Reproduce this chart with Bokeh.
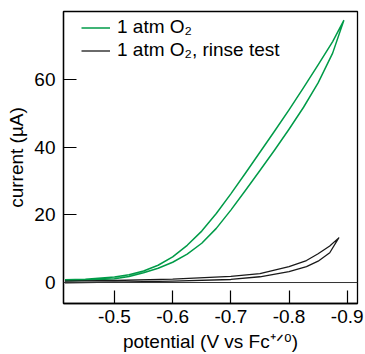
from bokeh.plotting import figure
from bokeh.models import Range1d, FixedTicker, Span, Legend, LegendItem, ColumnDataSource
from bokeh.embed import file_html
from bokeh.resources import INLINE

# ---- data (potential in V vs Fc+/0, current in uA) ----
o2_forward_v = [-0.415, -0.45, -0.5, -0.525, -0.55, -0.575, -0.6, -0.625, -0.65, -0.675,
                -0.7, -0.725, -0.75, -0.775, -0.8, -0.825, -0.85, -0.875, -0.894]
o2_forward_i = [0.5, 0.7, 1.1, 1.8, 2.9, 4.2, 6.0, 8.4, 11.6, 16.0,
                21.4, 27.2, 33.1, 39.1, 45.3, 51.8, 59.0, 67.8, 77.4]
o2_reverse_v = [-0.894, -0.875, -0.85, -0.825, -0.8, -0.775, -0.75, -0.725, -0.7, -0.675,
                -0.65, -0.625, -0.6, -0.575, -0.55, -0.525, -0.5, -0.45, -0.415]
o2_reverse_i = [77.4, 71.2, 64.3, 57.6, 51.0, 44.7, 38.5, 32.3, 26.2, 20.4,
                15.2, 11.0, 7.6, 5.1, 3.4, 2.3, 1.6, 1.0, 0.8]

rinse_forward_v = [-0.415, -0.5, -0.6, -0.7, -0.75, -0.8, -0.83, -0.85, -0.87, -0.8855]
rinse_forward_i = [-0.1, 0.1, 0.4, 0.9, 1.7, 3.2, 4.7, 6.3, 8.8, 13.2]
rinse_reverse_v = [-0.8855, -0.87, -0.85, -0.83, -0.8, -0.75, -0.7, -0.6, -0.5, -0.415]
rinse_reverse_i = [13.2, 10.8, 8.5, 6.5, 4.7, 2.6, 1.8, 1.0, 0.6, 0.4]

x_ticks = [-0.5, -0.6, -0.7, -0.8, -0.9]
y_ticks = [0, 20, 40, 60]
series_labels = ["1 atm O\u2082", "1 atm O\u2082, rinse test"]
x_title = "potential (V vs Fc\u207a\u141f\u2070)"
y_title = "current (\u00b5A)"

FONT = "Liberation Sans"
GREEN = "#009b48"
BLACK = "#1a1a1a"

p = figure(width=365, height=354, output_backend="svg", toolbar_location=None,
           x_range=Range1d(-0.4124, -0.9177), y_range=Range1d(-6.2, 80.1),
           min_border_left=63, min_border_right=8, min_border_top=11, min_border_bottom=51)

p.background_fill_color = "white"
p.border_fill_color = "white"
p.outline_line_color = "black"
p.outline_line_width = 1.3
p.grid.visible = False

zero = Span(location=0, dimension="width", line_color="#333333", line_width=1)
p.add_layout(zero)

src_o2 = ColumnDataSource(dict(x=o2_forward_v + o2_reverse_v, y=o2_forward_i + o2_reverse_i))
src_rinse = ColumnDataSource(dict(x=rinse_forward_v + rinse_reverse_v, y=rinse_forward_i + rinse_reverse_i))

r1 = p.line("x", "y", source=src_o2, line_color=GREEN, line_width=1.5, line_join="round")
r2 = p.line("x", "y", source=src_rinse, line_color=BLACK, line_width=1.3, line_join="round")

legend = Legend(items=[LegendItem(label=series_labels[0], renderers=[r1]),
                       LegendItem(label=series_labels[1], renderers=[r2])],
                location=(18, 242), padding=0, margin=0, spacing=1,
                glyph_width=29, glyph_height=21, label_height=21, label_standoff=7,
                border_line_alpha=0, background_fill_alpha=0,
                label_text_font=FONT, label_text_font_size="19px", label_text_color="black")
p.add_layout(legend)

for ax in (p.xaxis[0], p.yaxis[0]):
    ax.major_tick_in = 13
    ax.major_tick_out = 0
    ax.minor_tick_in = 0
    ax.minor_tick_out = 0
    ax.major_tick_line_color = "black"
    ax.major_tick_line_width = 1.2
    ax.axis_line_color = "black"
    ax.axis_line_width = 1.3
    ax.major_label_text_font = FONT
    ax.major_label_text_font_size = "19px"
    ax.major_label_text_color = "black"
    ax.axis_label_text_font = FONT
    ax.axis_label_text_font_size = "19px"
    ax.axis_label_text_font_style = "normal"
    ax.axis_label_text_color = "black"

p.xaxis[0].ticker = FixedTicker(ticks=x_ticks)
p.xaxis[0].major_label_overrides = {t: f"{t:.1f}" for t in x_ticks}
p.yaxis[0].ticker = FixedTicker(ticks=y_ticks)
p.yaxis[0].major_label_overrides = {t: str(t) for t in y_ticks}
p.xaxis[0].major_label_standoff = 6
p.yaxis[0].major_label_standoff = 8

p.xaxis[0].axis_label = x_title
p.xaxis[0].axis_label_standoff = 5
p.yaxis[0].axis_label = y_title
p.yaxis[0].axis_label_standoff = 4

open("out.html", "w").write(file_html(p, INLINE))
